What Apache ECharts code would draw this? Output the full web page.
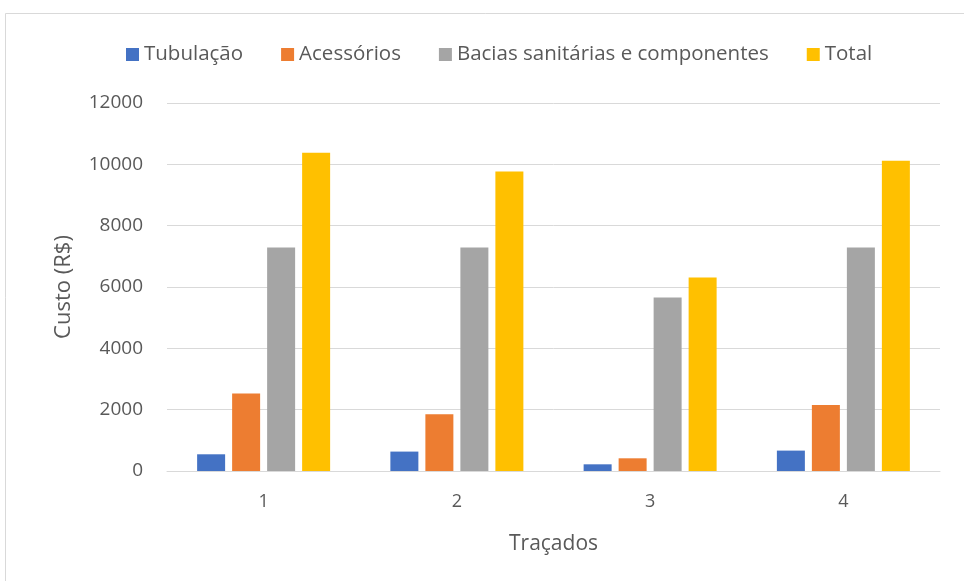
<!DOCTYPE html>
<html>
<head>
<meta charset="utf-8">
<script src="https://cdn.jsdelivr.net/npm/echarts@6/dist/echarts.min.js"></script>
<style>
  html, body { margin: 0; padding: 0; background: #fff; }
  #chart { width: 964px; height: 581px; }
</style>
</head>
<body>
<div id="chart"></div>
<script>
// dados do gráfico
var categorias = ["1", "2", "3", "4"];
var tubulacao = [545, 633, 218, 665];
var acessorios = [2525, 1850, 414, 2153];
var bacias = [7290, 7290, 5657, 7290];
var total = [10375, 9768, 6310, 10114];

var fonte = "'Open Sans', sans-serif";
var corTexto = "#595959";

var myChart = echarts.init(document.getElementById("chart"));

function serie(nome, cor, dados) {
  return {
    name: nome,
    type: "bar",
    barWidth: 28,
    barGap: "25%",
    barCategoryGap: "31%",
    itemStyle: { color: cor },
    data: dados
  };
}

var option = {
  backgroundColor: "#fff",
  textStyle: { fontFamily: fonte },
  graphic: [
    {
      type: "rect",
      shape: { x: 5.5, y: 13.5, width: 1000, height: 600 },
      style: { fill: "none", stroke: "#d9d9d9", lineWidth: 1 }
    }
  ],
  legend: {
    top: 39,
    left: 121,
    itemWidth: 13,
    itemHeight: 13,
    itemGap: 38,
    icon: "rect",
    textStyle: { fontSize: 20.5, color: corTexto, fontFamily: fonte },
    data: ["Tubulação", "Acessórios", "Bacias sanitárias e componentes", "Total"]
  },
  grid: {
    left: 167,
    right: 24,
    top: 103,
    bottom: 110,
    containLabel: false
  },
  xAxis: {
    type: "category",
    data: categorias,
    name: "Traçados",
    nameLocation: "middle",
    nameGap: 63,
    nameTextStyle: { fontSize: 21, color: corTexto, fontFamily: fonte },
    axisLine: { lineStyle: { color: "#d9d9d9", width: 1 } },
    axisTick: { show: false },
    axisLabel: { fontSize: 18, color: corTexto, margin: 22, fontFamily: fonte }
  },
  yAxis: {
    type: "value",
    min: 0,
    max: 12000,
    interval: 2000,
    name: "Custo (R$)",
    nameLocation: "middle",
    nameGap: 92,
    nameRotate: 90,
    nameTextStyle: { fontSize: 22, color: corTexto, fontFamily: fonte },
    axisLine: { show: false },
    axisTick: { show: false },
    axisLabel: {
      fontSize: 19,
      color: corTexto,
      margin: 24,
      fontFamily: fonte,
      formatter: function (v) { return String(v); }
    },
    splitLine: { lineStyle: { color: "#d9d9d9", width: 1 } }
  },
  series: [
    serie("Tubulação", "#4472c4", tubulacao),
    serie("Acessórios", "#ed7d31", acessorios),
    serie("Bacias sanitárias e componentes", "#a5a5a5", bacias),
    serie("Total", "#ffc000", total)
  ]
};

myChart.setOption(option);
</script>
</body>
</html>
